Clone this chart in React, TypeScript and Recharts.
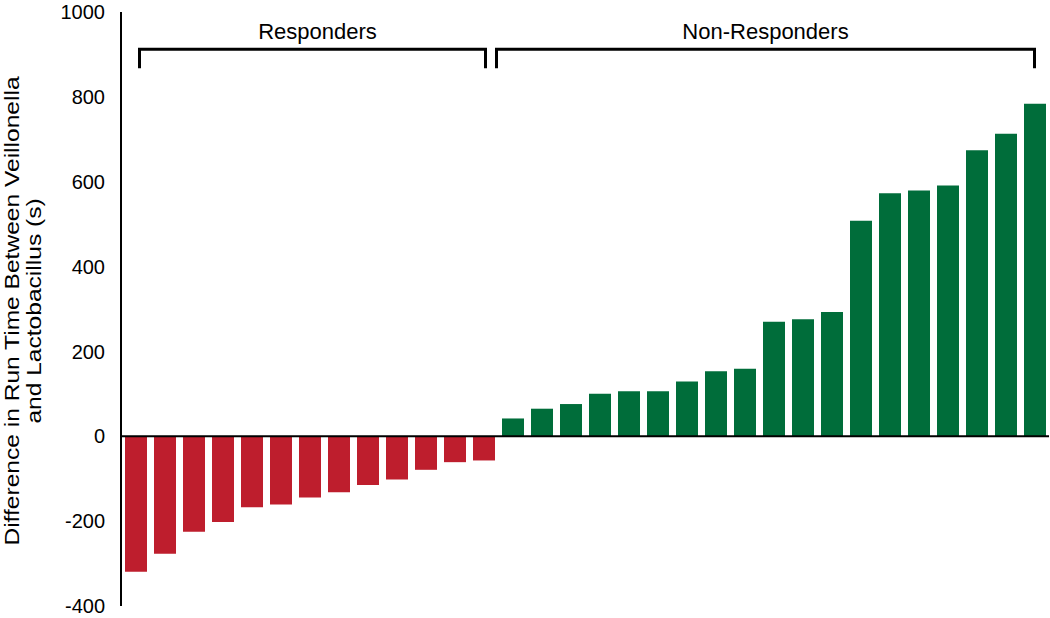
import React from 'react';
import { BarChart, Bar, Cell, XAxis, YAxis, ReferenceLine, Label } from 'recharts';

const responderIds = ['R1', 'R2', 'R3', 'R4', 'R5', 'R6', 'R7', 'R8', 'R9', 'R10', 'R11', 'R12', 'R13'];
const responderValues = [-319, -277, -225, -202, -167, -161, -144, -132, -115, -102, -79, -61, -57];

const nonResponderIds = [
    'N1', 'N2', 'N3', 'N4', 'N5', 'N6', 'N7', 'N8', 'N9', 'N10',
    'N11', 'N12', 'N13', 'N14', 'N15', 'N16', 'N17', 'N18', 'N19',
];
const nonResponderValues = [42, 65, 76, 100, 106, 106, 129, 153, 159, 270, 276, 293, 508, 573, 579, 591, 674, 713, 784];

const yTicks = [-400, -200, 0, 200, 400, 600, 800, 1000];
const bracketLevel = 912;

const RED = '#BE1E2D';
const GREEN = '#006D3A';
const FONT = '"Liberation Sans", Arial, Helvetica, sans-serif';

type Row = { id: string; value: number; group: string };

const data: Row[] = [
    ...responderIds.map((id, i) => ({ id, value: responderValues[i], group: 'Responders' })),
    ...nonResponderIds.map((id, i) => ({ id, value: nonResponderValues[i], group: 'Non-Responders' })),
];

// bracket with a caption above it; dl/dr nudge the ends off the bar centres
const renderBracket = (p: any, text: string, dl: number, dr: number, dx: number) => {
    const xa = p.x1 + dl;
    const xb = p.x2 + dr;
    const y = p.y1;
    return (
        <g>
            <path
                d={`M${xa},${y + 19}L${xa},${y}L${xb},${y}L${xb},${y + 19}`}
                stroke="#000"
                strokeWidth={3}
                fill="none"
            />
            <text
                x={(xa + xb) / 2 + dx}
                y={y - 10}
                textAnchor="middle"
                fontSize={22}
                fontFamily={FONT}
                fill="#000"
            >
                {text}
            </text>
        </g>
    );
};

// the original title is a little stretched along its run
const renderYLabel = () => {
    const cy = 311;
    return (
        <g transform={`translate(0, ${cy}) rotate(-90) scale(1.17, 1)`} fontFamily={FONT} fontSize={21} fill="#000">
            <text x={0} y={19.5} textAnchor="middle">Difference in Run Time Between Veillonella</text>
            <text x={0} y={41} textAnchor="middle">and Lactobacillus (s)</text>
        </g>
    );
};

const App = () => {
    return (
        <div style={{ position: 'absolute', left: 0, top: 0, background: '#fff' }}>
            <BarChart
                width={1050}
                height={618}
                data={data}
                margin={{ top: 12, right: 1, bottom: 12, left: 0 }}
                barSize={22}
            >
                <XAxis dataKey="id" hide />
                <YAxis
                    width={121}
                    domain={[-400, 1000]}
                    ticks={yTicks}
                    interval={0}
                    tickLine={false}
                    tickSize={6}
                    tickMargin={10}
                    axisLine={{ stroke: '#000', strokeWidth: 2 }}
                    tick={{ fill: '#000', fontSize: 20, fontFamily: FONT }}
                >
                    <Label content={renderYLabel} />
                </YAxis>
                <Bar dataKey="value" isAnimationActive={false}>
                    {data.map((d) => (
                        <Cell key={d.id} fill={d.group === 'Responders' ? RED : GREEN} />
                    ))}
                </Bar>
                <ReferenceLine y={0} stroke="#000" strokeWidth={2} />
                <ReferenceLine
                    segment={[{ x: 'R1', y: bracketLevel }, { x: 'R13', y: bracketLevel }]}
                    shape={(p: any) => renderBracket(p, 'Responders', 4, 2, 5)}
                />
                <ReferenceLine
                    segment={[{ x: 'N1', y: bracketLevel }, { x: 'N19', y: bracketLevel }]}
                    shape={(p: any) => renderBracket(p, 'Non-Responders', -16, 0, 0)}
                />
            </BarChart>
        </div>
    );
};

export default App;
